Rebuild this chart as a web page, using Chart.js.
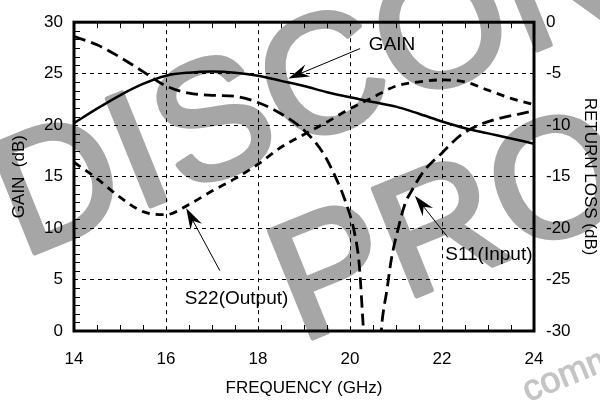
<!DOCTYPE html>
<html>
<head>
<meta charset="utf-8">
<script src="https://cdn.jsdelivr.net/npm/chart.js@4.4.0/dist/chart.umd.min.js"></script>
<style>
  body { margin: 0; background: #fff; }
  canvas { display: block; }
</style>
</head>
<body>
<canvas id="grafico" width="600" height="402"></canvas>
<script>
// datos
const frecuencias = [14, 14.5, 15, 15.5, 16, 16.5, 17, 17.5, 18, 18.5, 19, 19.5, 20, 20.5, 21, 21.5, 22, 22.5, 23, 23.5, 24];
const ganancia = [20.2, 21.6, 22.9, 24.0, 24.8, 25.1, 25.2, 25.1, 24.8, 24.3, 23.8, 23.2, 22.7, 22.25, 21.8, 21.1, 20.35, 19.7, 19.2, 18.7, 18.2];
const s22 = [-13.6, -15.2, -17.0, -18.4, -18.7, -17.7, -16.4, -15.2, -13.8, -12.15, -10.9, -9.7, -8.4, -7.3, -6.2, -5.8, -5.6, -5.8, -6.6, -7.4, -8.0];
const frecuenciasS11 = [14, 14.5, 15, 15.5, 16, 16.5, 17, 17.5, 18, 18.5, 19, 19.4, 19.7, 19.9, 20.1, 20.2, 20.3, 20.5, 20.7, 20.8, 20.9, 21.05, 21.2, 21.35, 21.6, 22, 22.4, 22.8, 23.2, 23.7, 24];
const s11 = [-1.4, -2.2, -3.4, -4.8, -6.2, -6.9, -7.1, -7.2, -7.8, -8.9, -10.5, -12.6, -15.2, -17.4, -20.5, -23.5, -30.3, -40, -29.0, -26.1, -23.0, -20.0, -17.6, -16.3, -14.5, -12.7, -11.0, -10.0, -9.4, -8.9, -8.6];

const ticksX = [14, 16, 18, 20, 22, 24];
const ticksGanancia = [0, 5, 10, 15, 20, 25, 30];
const ticksPerdida = [-30, -25, -20, -15, -10, -5, 0];

const fuente = "'Liberation Sans', Arial, Helvetica, sans-serif";
Chart.defaults.font.family = fuente;
Chart.defaults.font.size = 17;
Chart.defaults.color = '#000';

function puntos(xs, ys) {
  return xs.map((x, i) => ({ x: x, y: ys[i] }));
}

// flechas y textos (en unidades de los ejes)
const notas = [
  { texto: 'GAIN', tx: 20.41, ty: 27.8, x1: 20.22, y1: 27.44, x2: 18.66, y2: 24.53 },
  { texto: 'S22(Output)', tx: 16.41, ty: 3.12, x1: 17.17, y1: 5.87, x2: 16.44, y2: 11.92 },
  { texto: 'S11(Input)', tx: 22.07, ty: 7.38, x1: 22.13, y1: 9.08, x2: 21.41, y2: 13.15 }
];

function flecha(c, x1, y1, x2, y2) {
  const ang = Math.atan2(y2 - y1, x2 - x1);
  c.beginPath();
  c.moveTo(x1, y1);
  c.lineTo(x2 - 12 * Math.cos(ang), y2 - 12 * Math.sin(ang));
  c.stroke();
  c.save();
  c.translate(x2, y2);
  c.rotate(ang);
  c.beginPath();
  c.moveTo(0, 0);
  c.lineTo(-21, -6.5);
  c.lineTo(-14, 0);
  c.lineTo(-21, 6.5);
  c.closePath();
  c.fill();
  c.restore();
}

// texto girado, letra por letra con espacio extra
function marcaAgua(c, texto, x, y, grados, espacio) {
  c.save();
  c.translate(x, y);
  c.rotate(-grados * Math.PI / 180);
  let pos = 0;
  for (const letra of texto) {
    c.strokeText(letra, pos, 0);
    c.fillText(letra, pos, 0);
    pos += c.measureText(letra).width + espacio;
  }
  c.restore();
}

const fondo = {
  id: 'fondo',
  beforeDraw(chart) {
    const c = chart.ctx;
    c.save();
    c.fillStyle = '#fff';
    c.fillRect(0, 0, chart.width, chart.height);
    c.textBaseline = 'alphabetic';
    c.lineJoin = 'round';
    c.fillStyle = '#a6a6a6';
    c.strokeStyle = '#a6a6a6';
    c.lineWidth = 5;
    c.font = '168px ' + fuente;
    marcaAgua(c, 'DISCONTINUED', 22, 258, 22, 2);
    marcaAgua(c, 'PRODUCT', 300, 343, 22, 0);
    c.fillStyle = '#c4c4c4';
    c.strokeStyle = '#c4c4c4';
    c.lineWidth = 1;
    c.font = '36px ' + fuente;
    marcaAgua(c, 'comm', 528, 402, 22, 0);
    c.restore();
  }
};

const marco = {
  id: 'marco',
  afterDatasetsDraw(chart) {
    const c = chart.ctx;
    const a = chart.chartArea;
    const x = chart.scales.x;
    const y = chart.scales.y;
    c.save();
    c.strokeStyle = '#000';
    c.fillStyle = '#000';
    c.lineWidth = 1;
    // marcas menores
    c.beginPath();
    for (let i = 1; i < 20; i++) {
      if (i % 4 === 0) continue;
      const px = Math.round(x.getPixelForValue(14 + i * 0.5)) + 0.5;
      c.moveTo(px, a.bottom);
      c.lineTo(px, a.bottom - 6);
      c.moveTo(px, a.top);
      c.lineTo(px, a.top + 6);
    }
    for (let i = 1; i < 36; i++) {
      if (i % 6 === 0) continue;
      const py = Math.round(y.getPixelForValue(i * 5 / 6)) + 0.5;
      c.moveTo(a.left, py);
      c.lineTo(a.left + 6, py);
    }
    c.stroke();
    // marco
    c.lineWidth = 3;
    c.strokeRect(a.left, a.top, a.right - a.left, a.bottom - a.top);
    // notas
    c.lineWidth = 1;
    c.font = '19px ' + fuente;
    c.textBaseline = 'middle';
    c.textAlign = 'left';
    notas.forEach(n => {
      flecha(c, x.getPixelForValue(n.x1), y.getPixelForValue(n.y1), x.getPixelForValue(n.x2), y.getPixelForValue(n.y2));
      c.fillText(n.texto, x.getPixelForValue(n.tx), y.getPixelForValue(n.ty));
    });
    c.restore();
  }
};

const ctx = document.getElementById('grafico').getContext('2d');
const grafico = new Chart(ctx, {
  type: 'line',
  data: {
    datasets: [
      {
        label: 'GAIN',
        data: puntos(frecuencias, ganancia),
        yAxisID: 'y',
        borderColor: '#000',
        borderWidth: 2.5,
        pointRadius: 0,
        cubicInterpolationMode: 'monotone',
        fill: false
      },
      {
        label: 'S22(Output)',
        data: puntos(frecuencias, s22),
        yAxisID: 'y2',
        borderColor: '#000',
        borderWidth: 2.8,
        borderDash: [8, 6],
        pointRadius: 0,
        cubicInterpolationMode: 'monotone',
        fill: false
      },
      {
        label: 'S11(Input)',
        data: puntos(frecuenciasS11, s11),
        yAxisID: 'y2',
        borderColor: '#000',
        borderWidth: 2.8,
        borderDash: [12, 6],
        pointRadius: 0,
        cubicInterpolationMode: 'monotone',
        fill: false
      }
    ]
  },
  options: {
    responsive: false,
    animation: false,
    layout: { padding: { top: 14, left: 0, right: 0, bottom: 0 } },
    plugins: {
      legend: { display: false },
      tooltip: { enabled: false }
    },
    scales: {
      x: {
        type: 'linear',
        min: 14,
        max: 24,
        afterBuildTicks: s => { s.ticks = ticksX.map(v => ({ value: v })); },
        afterFit: s => { s.height = 71; },
        ticks: { padding: 18, font: { size: 17 } },
        grid: {
          drawTicks: false,
          lineWidth: 1,
          color: c => (c.tick && (c.tick.value === 14 || c.tick.value === 24)) ? 'rgba(0,0,0,0)' : '#000'
        },
        border: { display: false, dash: [4, 4] },
        title: { display: true, text: 'FREQUENCY (GHz)', font: { size: 17 }, padding: { top: 0, bottom: 3 } }
      },
      y: {
        position: 'left',
        min: 0,
        max: 30,
        afterBuildTicks: s => { s.ticks = ticksGanancia.map(v => ({ value: v })); },
        afterFit: s => { s.width = 74; },
        ticks: { padding: 11, font: { size: 17 } },
        grid: {
          drawTicks: false,
          lineWidth: 1,
          color: c => (c.tick && (c.tick.value === 0 || c.tick.value === 30)) ? 'rgba(0,0,0,0)' : '#000'
        },
        border: { display: false, dash: [4, 4] },
        title: { display: true, text: 'GAIN  (dB)', font: { size: 17 }, padding: { top: 9, bottom: 0 } }
      },
      y2: {
        position: 'right',
        min: -30,
        max: 0,
        afterBuildTicks: s => { s.ticks = ticksPerdida.map(v => ({ value: v })); },
        afterFit: s => { s.width = 66; },
        ticks: { padding: 12, font: { size: 17 } },
        grid: { drawOnChartArea: false, drawTicks: false },
        border: { display: false },
        title: { display: true, text: 'RETURN LOSS (dB)', font: { size: 17 }, padding: { top: 0, bottom: 0 } }
      }
    }
  },
  plugins: [fondo, marco]
});
</script>
</body>
</html>
